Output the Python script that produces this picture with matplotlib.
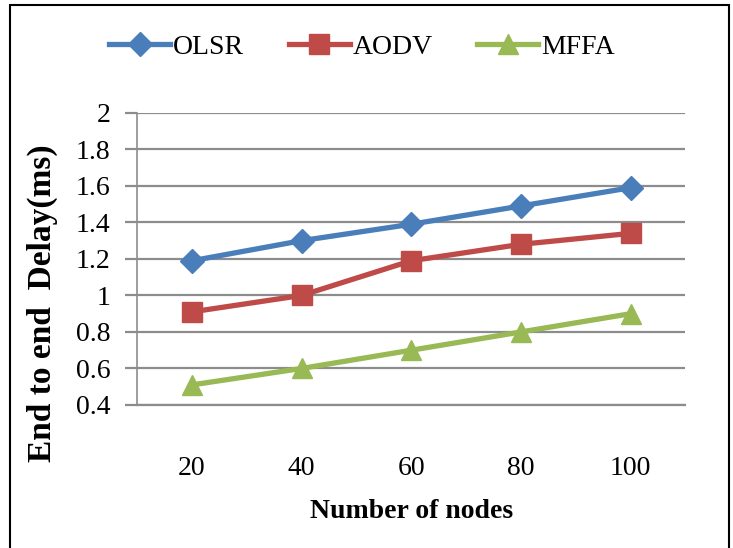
import matplotlib.pyplot as plt
import numpy as np
from matplotlib.patches import Rectangle

nodes = ["20", "40", "60", "80", "100"]
olsr = [1.19, 1.30, 1.39, 1.49, 1.59]
aodv = [0.91, 1.00, 1.19, 1.28, 1.34]
mffa = [0.51, 0.60, 0.70, 0.80, 0.90]

plt.rcParams['font.family'] = ['Liberation Serif', 'DejaVu Serif']

fig = plt.figure(figsize=(7.33, 5.48), dpi=100)
ax = fig.add_axes([0.187, 0.261, 0.748, 0.533])

x = np.arange(len(nodes))

# три серии
ax.plot(x, olsr, color="#4A7EBB", linewidth=3.8, marker="D", markersize=12, label="OLSR")
ax.plot(x, aodv, color="#BE4B48", linewidth=3.8, marker="s", markersize=14, label="AODV")
ax.plot(x, mffa, color="#98B954", linewidth=3.8, marker="^", markersize=15, label="MFFA")

ax.set_xlim(-0.5, len(nodes) - 0.5)
ax.set_ylim(0.4, 2.0)
ax.set_xticks(x)
ax.set_xticklabels(nodes)
ax.set_yticks(np.arange(0.4, 2.01, 0.2))
ax.set_yticklabels(["0.4", "0.6", "0.8", "1", "1.2", "1.4", "1.6", "1.8", "2"])

ax.yaxis.grid(True, color="#8C8C8C", linewidth=1.6)
ax.set_axisbelow(True)

for side in ["top", "right"]:
    ax.spines[side].set_visible(False)
ax.spines["left"].set_color("#8C8C8C")
ax.spines["bottom"].set_color("#8C8C8C")
ax.spines["left"].set_linewidth(1.2)
ax.spines["bottom"].set_linewidth(1.6)

ax.tick_params(axis="x", length=0, pad=37, labelsize=20)
ax.tick_params(axis="y", length=9, width=1.6, color="#8C8C8C", pad=10, labelsize=20)

ax.set_xlabel("Number of nodes", fontsize=20, fontweight="bold", labelpad=13)
ax.set_ylabel("End to end  Delay(ms)", fontsize=24, fontweight="bold")
ax.yaxis.set_label_coords(-0.144, 0.35)

ax.legend(loc="lower center", bbox_to_anchor=(0.41, 1.096), ncol=3, frameon=False,
          fontsize=20, handlelength=2.2, handletextpad=0.1, columnspacing=1.6)

# рамка вокруг рисунка
fig.add_artist(Rectangle((0.013, -0.01), 0.982, 1.0, transform=fig.transFigure,
                         fill=False, edgecolor="black", linewidth=1.5))

plt.savefig("out.png", dpi=100)
plt.close()
